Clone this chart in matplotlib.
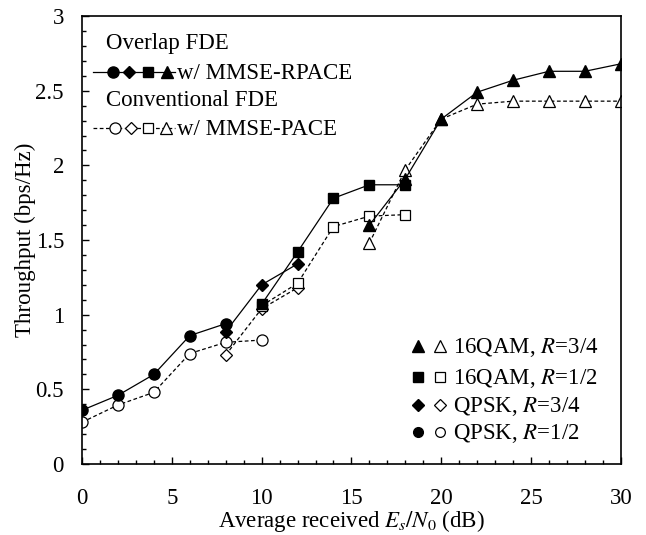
import matplotlib
matplotlib.use('Agg')
import matplotlib.pyplot as plt
from matplotlib.ticker import MultipleLocator

plt.rcParams['font.family'] = 'Liberation Serif'
plt.rcParams['mathtext.fontset'] = 'stix'

# QPSK, R=1/2
x_q12_ovl = [0, 2, 4, 6, 8]
y_q12_ovl = [0.36, 0.46, 0.60, 0.86, 0.94]
x_q12_conv = [0, 2, 4, 6, 8, 10]
y_q12_conv = [0.28, 0.395, 0.48, 0.74, 0.815, 0.83]
# QPSK, R=3/4
x_q34 = [8, 10, 12]
y_q34_ovl = [0.886, 1.20, 1.34]
y_q34_conv = [0.73, 1.04, 1.18]
# 16QAM, R=1/2
x_m12 = [10, 12, 14, 16, 18]
y_m12_ovl = [1.07, 1.42, 1.78, 1.87, 1.87]
y_m12_conv = [1.06, 1.21, 1.59, 1.66, 1.67]
# 16QAM, R=3/4
x_m34 = [16, 18, 20, 22, 24, 26, 28, 30]
y_m34_ovl = [1.60, 1.91, 2.31, 2.49, 2.57, 2.63, 2.63, 2.68]
y_m34_conv = [1.48, 1.97, 2.31, 2.41, 2.43, 2.43, 2.43, 2.43]

legend_labels = ['16QAM, $R$=3/4', '16QAM, $R$=1/2', 'QPSK, $R$=3/4', 'QPSK, $R$=1/2']

fs = 16.5
fig = plt.figure(figsize=(6.46, 5.35), dpi=100)
ax = fig.add_axes([0.127, 0.1327, 0.834, 0.8373])

ms = 8
series = [
    (x_q12_ovl, y_q12_ovl, x_q12_conv, y_q12_conv, 'o', ms),
    (x_q34, y_q34_ovl, x_q34, y_q34_conv, 'D', ms - 1.5),
    (x_m12, y_m12_ovl, x_m12, y_m12_conv, 's', ms - 0.5),
    (x_m34, y_m34_ovl, x_m34, y_m34_conv, '^', ms + 0.5),
]
for xo, yo, xc, yc, m, s in series:
    ax.plot(xc, yc, '--', color='black', lw=0.9, dashes=(3, 2), marker=m, ms=s,
            mfc='white', mec='black', mew=0.9, zorder=2)
for xo, yo, xc, yc, m, s in series:
    ax.plot(xo, yo, '-', color='black', lw=0.9, marker=m, ms=s,
            mfc='black', mec='black', zorder=3)

ax.set_xlim(0, 30)
ax.set_ylim(0, 3)
ax.xaxis.set_major_locator(MultipleLocator(5))
ax.xaxis.set_minor_locator(MultipleLocator(1))
ax.yaxis.set_major_locator(MultipleLocator(0.5))
ax.yaxis.set_minor_locator(MultipleLocator(0.1))
ax.tick_params(which='both', direction='in', top=False, right=False, labelsize=fs)
ax.tick_params(which='major', length=5, width=1)
ax.tick_params(which='minor', length=3, width=1)
ax.tick_params(axis='x', pad=17)
ax.tick_params(axis='y', pad=13)
ax.yaxis.set_major_formatter(plt.FuncFormatter(lambda v, p: '%g' % v))
for sp in ax.spines.values():
    sp.set_linewidth(1.2)

ax.set_xlabel(r'Average received $E_s/N_0$ (dB)', fontsize=fs, va='center')
ax.xaxis.set_label_coords(0.5, (464 - 521) / 448.0)
ax.set_ylabel('Throughput (bps/Hz)', fontsize=fs, va='center')
ax.yaxis.set_label_coords((25 - 82) / 539.0, 0.5)

# top-left legend
tr = ax.transAxes
def px(xp, yp):
    return ((xp - 82) / 539.0, (464 - yp) / 448.0)

legend_marks = [('o', ms), ('D', ms - 1.5), ('s', ms - 0.5), ('^', ms + 0.5)]
ax.text(*px(106, 43), 'Overlap FDE', transform=tr, fontsize=fs, va='center')
ax.plot([px(93, 0)[0], px(175, 0)[0]], [px(0, 72)[1]] * 2, '-', color='black',
        lw=0.9, transform=tr, clip_on=False)
for xp, (m, s) in zip([113, 129, 148, 167], legend_marks):
    ax.plot(*px(xp, 72), marker=m, ms=s, color='black', transform=tr, clip_on=False)
ax.text(*px(177, 73), 'w/ MMSE-RPACE', transform=tr, fontsize=fs, va='center')

ax.text(*px(106, 100), 'Conventional FDE', transform=tr, fontsize=fs, va='center')
ax.plot([px(93, 0)[0], px(175, 0)[0]], [px(0, 128)[1]] * 2, '--', color='black',
        lw=0.9, dashes=(3, 2), transform=tr, clip_on=False)
for xp, (m, s) in zip([115, 131, 148, 166], legend_marks):
    ax.plot(*px(xp, 128), marker=m, ms=s, mfc='white', mec='black', mew=0.9,
            transform=tr, clip_on=False)
ax.text(*px(177, 129), 'w/ MMSE-PACE', transform=tr, fontsize=fs, va='center')

# bottom-right legend
ys = [346, 377, 405, 432]
marks = [('^', ms + 0.5), ('s', ms - 0.5), ('D', ms - 1.5), ('o', ms - 1)]
for yp, (m, s), lab in zip(ys, marks, legend_labels):
    ax.plot(*px(418, yp), marker=m, ms=s, color='black', transform=tr, clip_on=False)
    ax.plot(*px(440, yp), marker=m, ms=s, mfc='white', mec='black', mew=0.9,
            transform=tr, clip_on=False)
    ax.text(*px(453, yp + 1), lab, transform=tr, fontsize=fs, va='center')

fig.savefig('out.png', dpi=100)
